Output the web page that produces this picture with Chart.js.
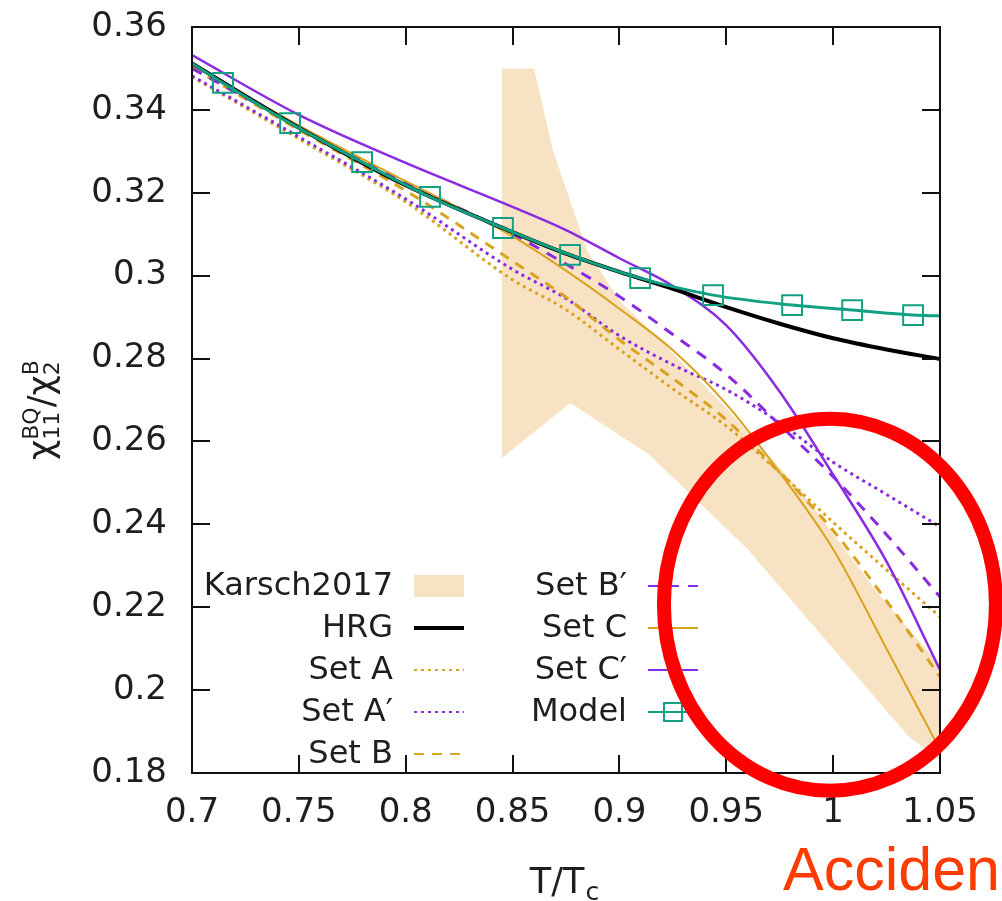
<!DOCTYPE html>
<html>
<head>
<meta charset="utf-8">
<script src="https://cdn.jsdelivr.net/npm/chart.js@4.4.0/dist/chart.umd.min.js"></script>
<style>
  html, body { margin: 0; padding: 0; background: #fff; }
</style>
</head>
<body>
<canvas id="myChart" width="1002" height="901"></canvas>
<script>
// Temperature grid shared by the parameter-set curves (T/Tc)
var tGrid = [0.70, 0.75, 0.80, 0.85, 0.875, 0.90, 0.925, 0.95, 0.975, 1.00, 1.025, 1.05];

// chi11^BQ / chi2^B for each curve
var hrg   = [0.3512, 0.3357, 0.3218, 0.3105, 0.3053, 0.3009, 0.2968, 0.2924, 0.2884, 0.2849, 0.2822, 0.2799];
var setA  = [0.3480, 0.3330, 0.3178, 0.2990, 0.2918, 0.2822, 0.2727, 0.2637, 0.2525, 0.2405, 0.2290, 0.2177];
var setAp = [0.3482, 0.3335, 0.3185, 0.3015, 0.2945, 0.2855, 0.2785, 0.2725, 0.2645, 0.2550, 0.2472, 0.2394];
var setB  = [0.3502, 0.3352, 0.3205, 0.3035, 0.2948, 0.2845, 0.2752, 0.2652, 0.2525, 0.2385, 0.2215, 0.2032];
var setBp = [0.3500, 0.3360, 0.3225, 0.3100, 0.3028, 0.2950, 0.2858, 0.2762, 0.2640, 0.2515, 0.2375, 0.2225];
var setC  = [0.3510, 0.3362, 0.3228, 0.3095, 0.3012, 0.2920, 0.2820, 0.2690, 0.2525, 0.2340, 0.2100, 0.1856];
var setCp = [0.3532, 0.3388, 0.3272, 0.3166, 0.3110, 0.3042, 0.2975, 0.2880, 0.2720, 0.2520, 0.2310, 0.2049];

// Model curve (line + square markers at the inner points)
var modelT = [0.700, 0.7145, 0.7459, 0.7796, 0.8114, 0.8455, 0.8769, 0.9097, 0.9438, 0.9808, 1.0089, 1.0374, 1.050];
var modelR = [0.3512, 0.3465, 0.3368, 0.3274, 0.3190, 0.3115, 0.3050, 0.2994, 0.2953, 0.2929, 0.2917, 0.2905, 0.2903];

// Karsch2017 lattice band, outline (upper edge left->right, lower edge back)
var bandT = [0.845, 0.860, 0.869, 0.885, 0.900, 0.920, 0.950, 0.985, 1.020, 1.050, 1.050, 1.035, 1.000, 0.960, 0.914, 0.877, 0.845];
var bandR = [0.350, 0.350, 0.330, 0.306, 0.294, 0.284, 0.268, 0.248, 0.224, 0.206, 0.183, 0.189, 0.210, 0.234, 0.2568, 0.2693, 0.256];

// axes
var xTickVals = [0.7, 0.75, 0.8, 0.85, 0.9, 0.95, 1.0, 1.05];
var xTickLabels = ['0.7', '0.75', '0.8', '0.85', '0.9', '0.95', '1', '1.05'];
var yTickVals = [0.18, 0.20, 0.22, 0.24, 0.26, 0.28, 0.30, 0.32, 0.34, 0.36];
var yTickLabels = ['0.18', '0.2', '0.22', '0.24', '0.26', '0.28', '0.3', '0.32', '0.34', '0.36'];

// legend columns (gnuplot style key)
var keyCol1 = ['Karsch2017', 'HRG', 'Set A', 'Set A\u2032', 'Set B'];
var keyCol2 = ['Set B\u2032', 'Set C', 'Set C\u2032', 'Model'];

// red hand-drawn circle + note, centred in data units
var noteCenter = [0.9985, 0.2206];
var noteText = 'Acciden';

var GOLD = '#d9a21f';
var VIOLET = '#8a2be2';
var TEAL = '#12a083';
var BAND = '#f7e3c4';
var FONT = 'DejaVu Sans';

function pts(xs, ys) {
  return xs.map(function(x, i) { return { x: x, y: ys[i] }; });
}

function curve(label, ys, color, width, dash, order) {
  return {
    label: label,
    data: pts(tGrid, ys),
    borderColor: color,
    borderWidth: width,
    borderDash: dash,
    pointRadius: 0,
    fill: false,
    cubicInterpolationMode: 'monotone',
    order: order
  };
}

var datasets = [
  {
    label: 'Model',
    data: pts(modelT, modelR),
    borderColor: TEAL,
    borderWidth: 3,
    pointStyle: 'rect',
    pointRadius: modelT.map(function(t, i) { return (i === 0 || i === modelT.length - 1) ? 0 : 14; }),
    pointBorderColor: TEAL,
    pointBorderWidth: 2,
    pointBackgroundColor: 'rgba(0,0,0,0)',
    cubicInterpolationMode: 'monotone',
    fill: false,
    order: 0
  },
  curve('HRG', hrg, '#000', 4, [], 1),
  curve('Set C\u2032', setCp, VIOLET, 2.5, [], 2),
  curve('Set C', setC, GOLD, 2, [], 3),
  curve('Set B\u2032', setBp, VIOLET, 3, [11, 9], 4),
  curve('Set B', setB, GOLD, 3, [10, 8], 5),
  curve('Set A\u2032', setAp, VIOLET, 3, [3, 4], 6),
  curve('Set A', setA, GOLD, 3, [3, 4], 7),
  {
    label: 'Karsch2017',
    data: pts(bandT, bandR),
    borderWidth: 0,
    borderColor: 'rgba(0,0,0,0)',
    backgroundColor: BAND,
    pointRadius: 0,
    tension: 0,
    fill: 'shape',
    order: 9
  }
];

function findSet(chart, label) {
  return chart.data.datasets.filter(function(d) { return d.label === label; })[0];
}

// border box and inward ticks on all four sides
var frame = {
  id: 'frame',
  afterDatasetsDraw: function(chart) {
    var c = chart.ctx, a = chart.chartArea;
    var xs = chart.scales.x, ys = chart.scales.y;
    c.save();
    c.strokeStyle = '#111';
    c.lineWidth = 2;
    c.beginPath();
    xTickVals.forEach(function(v) {
      var px = Math.round(xs.getPixelForValue(v));
      c.moveTo(px, a.bottom); c.lineTo(px, a.bottom - 18);
      c.moveTo(px, a.top); c.lineTo(px, a.top + 18);
    });
    yTickVals.forEach(function(v) {
      var py = Math.round(ys.getPixelForValue(v));
      c.moveTo(a.left, py); c.lineTo(a.left + 18, py);
      c.moveTo(a.right, py); c.lineTo(a.right - 18, py);
    });
    c.stroke();
    c.strokeRect(a.left, a.top, a.right - a.left, a.bottom - a.top);
    c.restore();
  }
};

// key drawn like gnuplot: right aligned text, sample to its right
var keyBox = {
  id: 'keyBox',
  afterDatasetsDraw: function(chart) {
    var c = chart.ctx, a = chart.chartArea;
    var rowH = 42;
    var top = a.top + 559;
    c.save();
    c.font = '32px "' + FONT + '"';
    c.textAlign = 'right';
    c.textBaseline = 'middle';
    function entry(label, textRight, y) {
      var ds = findSet(chart, label);
      c.fillStyle = '#1e1e1e';
      c.fillText(label, textRight, y + 1);
      var x0 = textRight + 21, x1 = x0 + 50;
      if (label === 'Karsch2017') {
        c.fillStyle = ds.backgroundColor;
        c.fillRect(x0, y - 11, x1 - x0, 22);
        return;
      }
      c.strokeStyle = ds.borderColor;
      c.lineWidth = label === 'HRG' ? 4 : 2;
      c.setLineDash(ds.borderDash || []);
      c.beginPath(); c.moveTo(x0, y); c.lineTo(x1, y); c.stroke();
      c.setLineDash([]);
      if (label === 'Model') {
        c.lineWidth = 2;
        c.strokeRect((x0 + x1) / 2 - 9, y - 9, 18, 18);
      }
    }
    keyCol1.forEach(function(l, i) { entry(l, a.left + 201, top + i * rowH); });
    keyCol2.forEach(function(l, i) { entry(l, a.left + 435, top + i * rowH); });
    c.restore();
  }
};

// axis titles with sub/superscripts
var axisTitles = {
  id: 'axisTitles',
  afterDraw: function(chart) {
    var c = chart.ctx, a = chart.chartArea;
    c.save();
    c.fillStyle = '#1e1e1e';
    c.textBaseline = 'alphabetic';
    c.textAlign = 'left';

    // x title: T/T_c
    var main = '35px "' + FONT + '"', small = '25px "' + FONT + '"';
    c.font = main;
    var w1 = c.measureText('T/T').width;
    c.font = small;
    var w2 = c.measureText('c').width;
    var x0 = (a.left + a.right) / 2 - 2 - (w1 + w2) / 2;
    c.font = main; c.fillText('T/T', x0, 893);
    c.font = small; c.fillText('c', x0 + w1 + 1, 900);

    // y title: chi_11^BQ / chi_2^B, rotated
    c.translate(53, 460);
    c.rotate(-Math.PI / 2);
    var big = '35px "' + FONT + '"', sm = '22px "' + FONT + '"';
    var x = 0;
    function put(txt, font, dy) { c.font = font; c.fillText(txt, x, dy); return c.measureText(txt).width; }
    x += put('\u03c7', big, 0);
    var wa = put('BQ', sm, -15);
    var wb = put('11', sm, 6);
    x += Math.max(wa, wb);
    x += put('/', big, 0);
    x += put('\u03c7', big, 0);
    put('B', sm, -15);
    put('2', sm, 6);
    c.restore();
  }
};

// red ellipse and clipped note
var annotation = {
  id: 'annotation',
  afterDraw: function(chart) {
    var c = chart.ctx;
    var cx = chart.scales.x.getPixelForValue(noteCenter[0]);
    var cy = chart.scales.y.getPixelForValue(noteCenter[1]);
    c.save();
    c.strokeStyle = '#ff0000';
    c.lineWidth = 14;
    c.beginPath();
    c.ellipse(cx, cy, 166, 186, 0, 0, Math.PI * 2);
    c.stroke();
    c.fillStyle = '#ff3c00';
    c.font = '61px "Liberation Sans"';
    c.textAlign = 'left';
    c.textBaseline = 'alphabetic';
    c.fillText(noteText, 783, 890);
    c.restore();
  }
};

var ctx = document.getElementById('myChart');
var chart = new Chart(ctx, {
  type: 'line',
  data: { datasets: datasets },
  options: {
    responsive: false,
    animation: false,
    devicePixelRatio: 1,
    layout: { padding: { left: 0, right: 62, top: 27, bottom: 0 } },
    plugins: {
      legend: { display: false },
      tooltip: { enabled: false }
    },
    scales: {
      x: {
        type: 'linear',
        min: 0.7,
        max: 1.05,
        grid: { display: false, drawTicks: false },
        border: { display: false },
        afterBuildTicks: function(s) { s.ticks = xTickVals.map(function(v) { return { value: v }; }); },
        afterFit: function(s) { s.height = 128; s.paddingLeft = 0; s.paddingRight = 0; },
        ticks: {
          autoSkip: false,
          maxRotation: 0,
          padding: 20,
          color: '#1e1e1e',
          font: { family: FONT, size: 34 },
          callback: function(v, i) { return xTickLabels[i]; }
        }
      },
      y: {
        type: 'linear',
        min: 0.18,
        max: 0.36,
        grid: { display: false, drawTicks: false },
        border: { display: false },
        afterBuildTicks: function(s) { s.ticks = yTickVals.map(function(v) { return { value: v }; }); },
        afterFit: function(s) { s.width = 192; s.paddingTop = 0; s.paddingBottom = 0; },
        ticks: {
          autoSkip: false,
          padding: 25,
          color: '#1e1e1e',
          font: { family: FONT, size: 34 },
          callback: function(v, i) { return yTickLabels[i]; }
        }
      }
    }
  },
  plugins: [frame, keyBox, axisTitles, annotation]
});
</script>
</body>
</html>
